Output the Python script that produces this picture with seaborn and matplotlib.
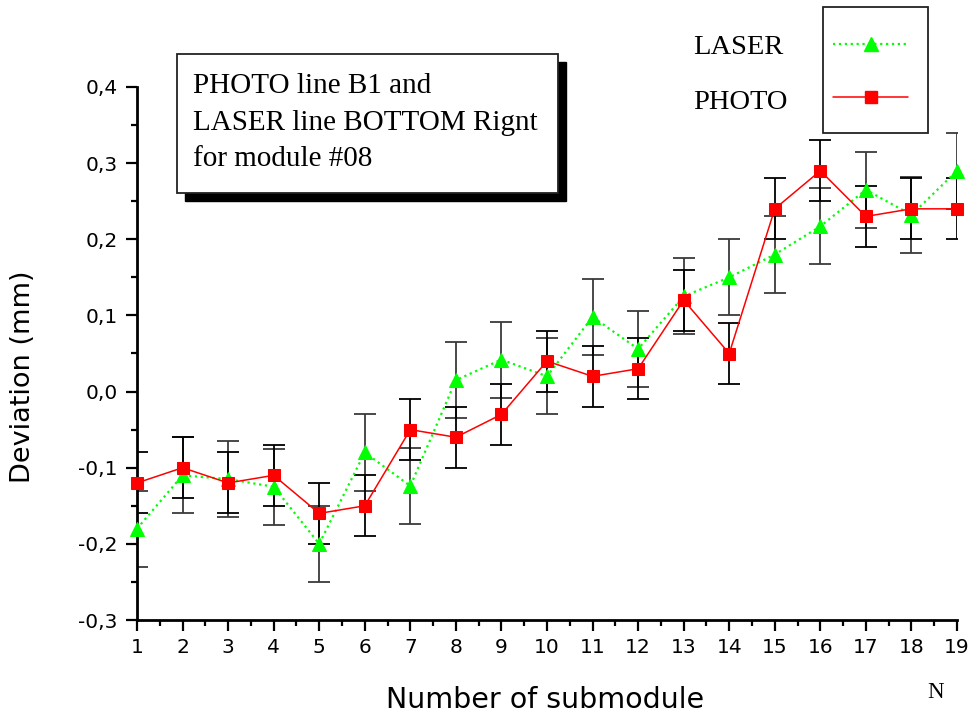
import numpy as np
import pandas as pd
import matplotlib
matplotlib.use("Agg")
import matplotlib.pyplot as plt
from matplotlib.lines import Line2D
from matplotlib.patches import Rectangle
import seaborn as sns

# ---- data ----
submodules = list(range(1, 20))
laser = [-0.18, -0.11, -0.115, -0.125, -0.20, -0.08, -0.124, 0.015, 0.042, 0.02,
         0.098, 0.056, 0.125, 0.15, 0.18, 0.217, 0.265, 0.232, 0.29]
photo = [-0.12, -0.10, -0.12, -0.11, -0.16, -0.15, -0.05, -0.06, -0.03, 0.04,
         0.02, 0.03, 0.12, 0.05, 0.24, 0.29, 0.23, 0.24, 0.24]
laser_err = [0.05] * 19
photo_err = [0.04] * 19
y_ticks = [-0.3, -0.2, -0.1, 0.0, 0.1, 0.2, 0.3, 0.4]
y_tick_labels = ["-0,3", "-0,2", "-0,1", "0,0", "0,1", "0,2", "0,3", "0,4"]
x_tick_labels = [str(v) for v in submodules]
series_names = ["LASER", "PHOTO"]
box_lines = ["PHOTO line B1 and", "LASER line BOTTOM Rignt", "for module #08"]

df = pd.DataFrame({
    "N": submodules * 2,
    "dev": laser + photo,
    "err": laser_err + photo_err,
    "series": ["LASER"] * 19 + ["PHOTO"] * 19,
})

sns.set_theme(style="ticks")
plt.rcParams["font.family"] = ["DejaVu Sans"]

W, H = 970, 713
fig = plt.figure(figsize=(W / 100, H / 100), dpi=100)
fig.patch.set_facecolor("white")

def fx(px):
    return px / W

def fy(py):
    return 1 - py / H

ax = fig.add_axes([fx(137), fy(620), 820 / W, 533 / H])
ax.set_facecolor("white")

GREEN = "#00ff00"
RED = "#ff0000"

# error bars (clipped at axes)
for name, col in [("LASER", "#3a3a3a"), ("PHOTO", "#000000")]:
    sub = df[df.series == name]
    ax.errorbar(sub["N"], sub["dev"], yerr=sub["err"], fmt="none",
                ecolor=col, elinewidth=1.3, capsize=8, capthick=1.3, zorder=2)

laser_df = df[df.series == "LASER"]
photo_df = df[df.series == "PHOTO"]
sns.lineplot(data=laser_df, x="N", y="dev", ax=ax, color=GREEN, linestyle=":",
             linewidth=1.6, marker="^", markersize=10.5, markeredgecolor=GREEN,
             markerfacecolor=GREEN, clip_on=False, zorder=3, legend=False)
sns.lineplot(data=photo_df, x="N", y="dev", ax=ax, color=RED, linestyle="-",
             linewidth=1.1, marker="s", markersize=8.5, markeredgecolor=RED,
             markerfacecolor=RED, clip_on=False, zorder=4, legend=False)

ax.set_xlim(1, 19)
ax.set_ylim(-0.3, 0.4)
ax.set_xticks(submodules)
ax.set_xticklabels(x_tick_labels)
ax.set_xticks(np.arange(1.5, 19, 1.0), minor=True)
ax.set_yticks(y_ticks)
ax.set_yticklabels(y_tick_labels)
ax.set_yticks(np.arange(-0.25, 0.4, 0.1), minor=True)

for s in ["top", "right"]:
    ax.spines[s].set_visible(False)
for s in ["left", "bottom"]:
    ax.spines[s].set_linewidth(2)
    ax.spines[s].set_color("black")

ax.tick_params(axis="both", which="major", direction="out", length=8, width=1.6,
               colors="black", labelsize=14.5, pad=5)
ax.tick_params(axis="both", which="minor", direction="out", length=4.5, width=1.6,
               colors="black")
ax.tick_params(axis="y", which="major", pad=6)
ax.grid(False)

ax.set_xlabel("Number of submodule", fontsize=20.5, color="black")
ax.set_ylabel("Deviation (mm)", fontsize=19.5, color="black")
ax.xaxis.set_label_coords(0.4976, -0.124)
ax.yaxis.set_label_coords(-0.123, 0.457)

# "N" annotation
fig.text(fx(936), fy(698), "N", family="Liberation Serif", fontsize=16.5,
         ha="center", va="baseline", color="black")

# annotation box with shadow
bx0, by0, bx1, by1 = 177, 54, 558, 193
off = 8
fig.add_artist(Rectangle((fx(bx0 + off), fy(by1 + off)), (bx1 - bx0) / W, (by1 - by0) / H,
                         transform=fig.transFigure, facecolor="black", edgecolor="black",
                         zorder=5))
fig.add_artist(Rectangle((fx(bx0), fy(by1)), (bx1 - bx0) / W, (by1 - by0) / H,
                         transform=fig.transFigure, facecolor="white", edgecolor="#222222",
                         linewidth=1.3, zorder=6))
for i, line in enumerate(box_lines):
    fig.text(fx(193), fy(93 + 36.5 * i), line, family="Liberation Serif",
             fontsize=21, ha="left", va="baseline", color="black", zorder=7)

# legend (handles boxed, labels to the left)
fig.add_artist(Rectangle((fx(823), fy(133)), (928 - 823) / W, (133 - 7) / H,
                         transform=fig.transFigure, facecolor="white", edgecolor="#222222",
                         linewidth=1.3, zorder=5))
leg_styles = [
    dict(color=GREEN, linestyle=":", linewidth=1.6, marker="^", markersize=10.5),
    dict(color=RED, linestyle="-", linewidth=1.1, marker="s", markersize=8.5),
]
for name, style, ly, tb in zip(series_names, leg_styles, [44, 97], [54, 109]):
    fig.add_artist(Line2D([fx(833), fx(908)], [fy(ly), fy(ly)], transform=fig.transFigure,
                          color=style["color"], linestyle=style["linestyle"],
                          linewidth=style["linewidth"], zorder=6))
    fig.add_artist(Line2D([fx(871)], [fy(ly)], transform=fig.transFigure,
                          marker=style["marker"], markersize=style["markersize"],
                          color=style["color"], linestyle="none", zorder=7))
    fig.text(fx(693), fy(tb), name, family="Liberation Serif", fontsize=20.5,
             ha="left", va="baseline", color="black")

fig.savefig("out.png", dpi=100, facecolor="white")
